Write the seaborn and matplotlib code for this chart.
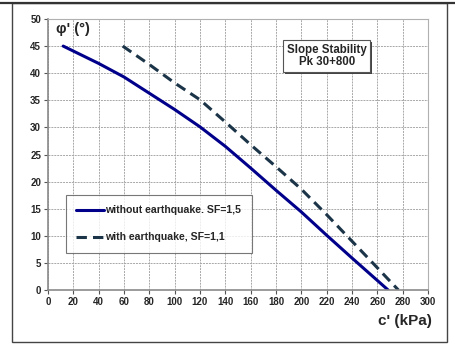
import matplotlib
matplotlib.use("Agg")
import matplotlib.pyplot as plt
import matplotlib.patheffects as pe
import seaborn as sns
import pandas as pd
from matplotlib.lines import Line2D
from matplotlib.patches import Rectangle

# values
c_no_eq = [12, 40, 60, 80, 100, 120, 140, 160, 180, 200, 220, 240, 268.5]
phi_no_eq = [45, 41.8, 39.3, 36.3, 33.3, 30.1, 26.5, 22.5, 18.4, 14.4, 10.1, 5.9, 0]

c_eq = [59, 80, 100, 120, 140, 160, 180, 200, 220, 240, 260, 276.6]
phi_eq = [45, 41.6, 38.2, 35.1, 31.0, 26.8, 22.75, 18.6, 13.9, 9.0, 4.1, 0]

label_no_eq = "without earthquake. SF=1,5"
label_eq = "with earthquake, SF=1,1"

x_ticks = list(range(0, 301, 20))
y_ticks = list(range(0, 51, 5))

df1 = pd.DataFrame({"c": c_no_eq, "phi": phi_no_eq})
df2 = pd.DataFrame({"c": c_eq, "phi": phi_eq})

sns.set_style("white")
plt.rcParams["font.family"] = ["Liberation Sans", "DejaVu Sans"]
plt.rcParams["font.weight"] = "bold"

solid_col = "#00008b"
dash_col = "#1b3448"
dash_pat = (3.4, 2.0)

fig = plt.figure(figsize=(4.56, 3.44), dpi=100)
ax = fig.add_axes([48 / 456, 54 / 344, 380 / 456, 271 / 344])

sns.lineplot(data=df1, x="c", y="phi", ax=ax, color=solid_col, linewidth=2.2,
             sort=False)
sns.lineplot(data=df2, x="c", y="phi", ax=ax, color=dash_col, linewidth=2.2,
             sort=False)
ax.lines[1].set_dashes(dash_pat)

ax.set_xlim(0, 300)
ax.set_ylim(0, 50)
ax.set_xticks(x_ticks)
ax.set_yticks(y_ticks)
ax.tick_params(axis="both", labelsize=7, length=3, width=0.8, pad=2,
               direction="out", color="#555555", bottom=True, left=True)
for lab in ax.get_xticklabels() + ax.get_yticklabels():
    lab.set_fontweight("bold")
ax.grid(True, color="#a8a8a8", linestyle=(0, (2, 1)), linewidth=0.7)
for side, sp in ax.spines.items():
    sp.set_color("#8a8a8a" if side in ("left", "bottom") else "#b0b0b0")
    sp.set_linewidth(1.2 if side in ("left", "bottom") else 0.8)
ax.set_xlabel("")
ax.set_ylabel("")

ax.text(0.022, 0.99, "φ' (°)", transform=ax.transAxes, fontsize=10.5,
        fontweight="bold", va="top", ha="left")
fig.text(432 / 456, 1 - 321 / 344, "c' (kPa)", fontsize=11,
         fontweight="bold", ha="right", va="center")

# title box with a small drop shadow
title = ax.text(220, 43.2, "Slope Stability\nPk 30+800", fontsize=8.3,
                fontweight="bold", ha="center", va="center", linespacing=1.05,
                bbox=dict(boxstyle="square,pad=0.3", facecolor="white",
                          edgecolor="#555555", linewidth=0.8))
title.get_bbox_patch().set_path_effects(
    [pe.SimplePatchShadow(offset=(1.5, -1.5), shadow_rgbFace="#444444", alpha=1),
     pe.Normal()])

handles = [Line2D([], [], color=solid_col, linewidth=2.2),
           Line2D([], [], color=dash_col, linewidth=2.2, dashes=dash_pat)]
leg = ax.legend(handles, [label_no_eq, label_eq], loc="lower left",
                bbox_to_anchor=(0.047, 0.137), borderaxespad=0,
                prop={"weight": "bold", "size": 7.6}, frameon=True,
                fancybox=False, handlelength=2.6, handletextpad=0.15,
                labelspacing=1.6, borderpad=1.0)
leg.get_frame().set_edgecolor("#555555")
leg.get_frame().set_linewidth(0.8)

# outer frame
fig.add_artist(Line2D([0, 1], [1 - 3 / 344, 1 - 3 / 344], color="#333333",
                      linewidth=1.6, transform=fig.transFigure))
fig.add_artist(Rectangle((12 / 456, 2 / 344), 435 / 456, 339 / 344,
                         fill=False, edgecolor="#444444", linewidth=1.0,
                         transform=fig.transFigure))

fig.savefig("out.png", dpi=100)
